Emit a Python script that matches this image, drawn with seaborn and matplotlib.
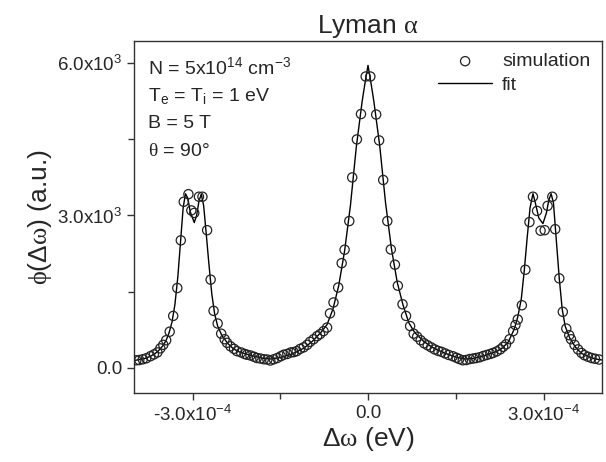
import numpy as np
import pandas as pd
import seaborn as sns
import matplotlib
matplotlib.use("Agg")
import matplotlib.pyplot as plt

# detuning in units of 1e-4 eV, profile in a.u.
sim_dw = [-3.96, -3.91, -3.85, -3.79, -3.72, -3.66, -3.60, -3.55, -3.50, -3.45,
          -3.39, -3.33, -3.26, -3.20, -3.15, -3.07, -3.02, -2.97, -2.89, -2.83,
          -2.75, -2.69, -2.64, -2.57, -2.51, -2.45, -2.41, -2.35, -2.29, -2.24,
          -2.17, -2.11, -2.07, -2.01, -1.95, -1.90, -1.84, -1.78, -1.72, -1.67,
          -1.61, -1.55, -1.49, -1.44, -1.38, -1.32, -1.27, -1.22, -1.16, -1.10,
          -1.04, -0.99, -0.93, -0.87, -0.82, -0.76, -0.70, -0.65, -0.59, -0.51,
          -0.45, -0.40, -0.32, -0.27, -0.19, -0.12, -0.04, 0.04, 0.14, 0.19,
          0.26, 0.33, 0.39, 0.46, 0.51, 0.59, 0.65, 0.72, 0.78, 0.84,
          0.90, 0.96, 1.02, 1.08, 1.14, 1.20, 1.26, 1.32, 1.38, 1.45,
          1.51, 1.56, 1.62, 1.68, 1.74, 1.80, 1.85, 1.91, 1.97, 2.03,
          2.09, 2.14, 2.20, 2.26, 2.31, 2.36, 2.42, 2.48, 2.52, 2.56,
          2.63, 2.69, 2.76, 2.82, 2.89, 2.95, 3.02, 3.07, 3.15, 3.20,
          3.27, 3.33, 3.39, 3.44, 3.47, 3.53, 3.59, 3.65, 3.70, 3.76,
          3.82, 3.88, 3.95]
sim_phi = [145, 150, 165, 185, 225, 260, 300, 380, 450, 540,
           709, 1020, 1570, 2510, 3270, 3420, 3100, 3050, 3370, 3370,
           2710, 1735, 1120, 870, 670, 560, 490, 420, 370, 325,
           300, 270, 255, 240, 215, 190, 180, 165, 160, 140,
           165, 190, 225, 255, 270, 300, 305, 325, 370, 400,
           450, 510, 560, 620, 660, 720, 790, 1070, 1285, 1580,
           2060, 2325, 2890, 3750, 4500, 5000, 5740, 5740, 4990, 4480,
           3700, 2890, 2330, 2030, 1615, 1250, 1020, 820, 670, 610,
           540, 480, 440, 400, 360, 330, 310, 280, 250, 225,
           195, 170, 145, 150, 170, 180, 190, 205, 230, 250,
           270, 290, 320, 360, 410, 460, 560, 720, 840, 950,
           1230, 1930, 2870, 3370, 3090, 2700, 2710, 3190, 3370, 2730,
           1760, 1100, 770, 640, 560, 450, 360, 290, 245, 215,
           190, 175, 160]

fit_dw = [-4.00, -3.90, -3.80, -3.70, -3.60, -3.50, -3.45, -3.40, -3.35, -3.30,
          -3.25, -3.20, -3.16, -3.12, -3.08, -3.04, -2.97, -2.93, -2.89, -2.85,
          -2.81, -2.77, -2.72, -2.67, -2.62, -2.57, -2.50, -2.40, -2.30, -2.20,
          -2.00, -1.80, -1.65, -1.50, -1.30, -1.10, -0.95, -0.80, -0.70, -0.60,
          -0.50, -0.40, -0.30, -0.20, -0.10, -0.05, 0.00, 0.05, 0.10, 0.20,
          0.30, 0.40, 0.50, 0.60, 0.70, 0.80, 0.95, 1.10, 1.30, 1.50,
          1.65, 1.80, 2.00, 2.20, 2.30, 2.40, 2.50, 2.56, 2.62, 2.67,
          2.72, 2.77, 2.82, 2.86, 2.92, 2.99, 3.05, 3.09, 3.13, 3.17,
          3.22, 3.27, 3.32, 3.37, 3.45, 3.55, 3.65, 3.80, 3.90, 4.00]
fit_phi = [140, 160, 185, 235, 310, 440, 540, 690, 900, 1250,
           1800, 2550, 3150, 3430, 3340, 3080, 2860, 3000, 3280, 3420,
           3200, 2700, 2050, 1450, 1050, 820, 640, 480, 370, 310,
           240, 185, 170, 200, 270, 380, 520, 700, 850, 1150,
           1620, 2300, 3200, 4350, 5250, 5620, 5960, 5620, 5250, 4380,
           3250, 2350, 1680, 1230, 880, 690, 520, 400, 290, 210,
           170, 180, 240, 320, 390, 510, 760, 1000, 1350, 1900,
           2550, 3150, 3430, 3250, 2950, 2840, 3050, 3300, 3430, 3250,
           2500, 1750, 1150, 820, 580, 400, 280, 200, 170, 150]

sim = pd.DataFrame({'dw': np.array(sim_dw) * 1e-4, 'phi': sim_phi})
fit = pd.DataFrame({'dw': np.array(fit_dw) * 1e-4, 'phi': fit_phi})

sns.set_style("ticks")
plt.rcParams['font.family'] = ['Liberation Sans', 'DejaVu Sans']
plt.rcParams['mathtext.fontset'] = 'custom'
plt.rcParams['mathtext.rm'] = 'Liberation Sans'
plt.rcParams['mathtext.it'] = 'Liberation Serif'
plt.rcParams['mathtext.default'] = 'rm'

fig = plt.figure(figsize=(6.06, 4.62), dpi=100)
ax = fig.add_axes([134 / 606, 1 - 393 / 462, 468 / 606, 352 / 462])

sns.scatterplot(data=sim, x='dw', y='phi', ax=ax, marker='o', s=44,
                facecolor='none', edgecolor='#222222', linewidth=0.9,
                label='simulation', zorder=3)
sns.lineplot(data=fit, x='dw', y='phi', ax=ax, color='black', linewidth=1.0,
             label='fit', zorder=2)

ax.set_xlim(-4e-4, 4e-4)
ax.set_ylim(-500, 6440)
ax.set_xticks([-3e-4, 0, 3e-4])
ax.set_xticklabels(['-3.0x10$^{-4}$', '0.0', '3.0x10$^{-4}$'])
ax.set_xticks([-1.5e-4, 1.5e-4], minor=True)
ax.set_yticks([0, 3000, 6000])
ax.set_yticklabels(['0.0', '3.0x10$^{3}$', '6.0x10$^{3}$'])
ax.set_yticks([1500, 4500], minor=True)
ax.tick_params(which='major', length=5, width=1, labelsize=13.5, color='#333333')
ax.tick_params(which='minor', length=4, width=1, color='#333333')
for sp in ax.spines.values():
    sp.set_color('#333333')
    sp.set_linewidth(1.0)

ax.set_xlabel(r'$\mathit{\Delta\omega}$ (eV)', fontsize=19, labelpad=0)
ax.set_ylabel(r'$\mathit{\phi}$($\mathit{\Delta\omega}$) (a.u.)', fontsize=19, labelpad=2)
ax.set_title(r'Lyman $\mathit{\alpha}$', fontsize=19, pad=6)

info = ['N = 5x10$^{14}$ cm$^{-3}$', 'T$_e$ = T$_i$ = 1 eV', 'B = 5 T',
        r'$\mathit{\theta}$ = 90°']
for i, s in enumerate(info):
    ax.text(0.03, 0.925 - i * 0.08, s, transform=ax.transAxes, fontsize=14,
            va='center', ha='left')

ax.legend(loc='upper right', frameon=False, fontsize=14, handlelength=2.8,
          borderaxespad=0.2, labelspacing=0.3, handletextpad=0.5)

fig.savefig('out.png', dpi=100)
